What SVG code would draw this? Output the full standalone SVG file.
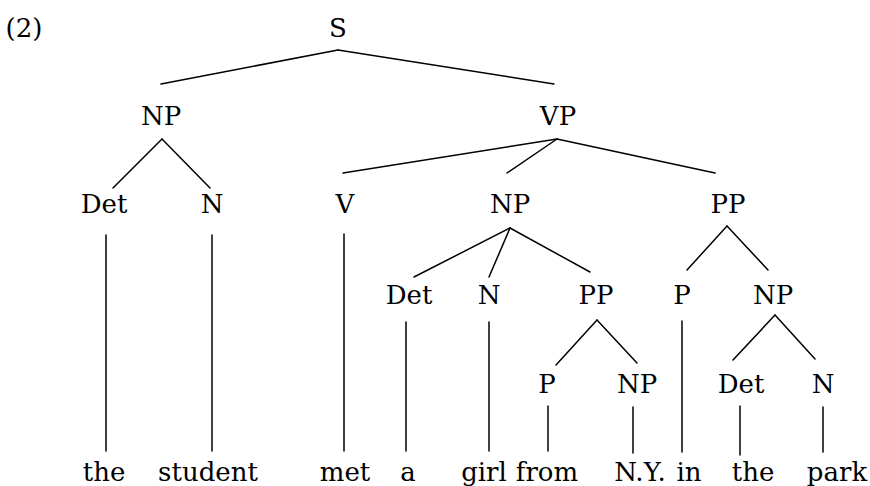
<svg xmlns="http://www.w3.org/2000/svg" width="870" height="486" viewBox="0 0 870 486">
<style>
text{font-family:"DejaVu Serif","Liberation Serif",serif;font-size:26px;fill:#000;text-anchor:middle}
.e line{stroke:#000;stroke-width:1.5;stroke-linecap:round}
</style>
<rect width="870" height="486" fill="#fff"/>
<text x="24" y="37">(2)</text>
<g id="S"><text x="338" y="37">S</text></g>
<g id="NP1"><text x="161" y="125">NP</text></g>
<g id="VP"><text x="558" y="125">VP</text></g>
<g id="Det1"><text x="104" y="213">Det</text></g>
<g id="N1"><text x="212" y="213">N</text></g>
<g id="V"><text x="345" y="213">V</text></g>
<g id="NP2"><text x="510" y="213">NP</text></g>
<g id="PP1"><text x="728" y="213">PP</text></g>
<g id="Det2"><text x="409" y="304">Det</text></g>
<g id="N2"><text x="489" y="304">N</text></g>
<g id="PP2"><text x="596" y="304">PP</text></g>
<g id="P1"><text x="682" y="304">P</text></g>
<g id="NP3"><text x="773" y="304">NP</text></g>
<g id="P2"><text x="547" y="393">P</text></g>
<g id="NP4"><text x="637" y="393">NP</text></g>
<g id="Det3"><text x="741" y="393">Det</text></g>
<g id="N3"><text x="823" y="393">N</text></g>
<g id="w1"><text x="104" y="481">the</text></g>
<g id="w2"><text x="208" y="481">student</text></g>
<g id="w3"><text x="345" y="481">met</text></g>
<g id="w4"><text x="408" y="481">a</text></g>
<g id="w5"><text x="484" y="481">girl</text></g>
<g id="w6"><text x="547" y="481">from</text></g>
<g id="w7"><text x="640" y="481">N.Y.</text></g>
<g id="w8"><text x="689" y="481">in</text></g>
<g id="w9"><text x="753" y="481">the</text></g>
<g id="w10"><text x="837" y="481">park</text></g>
<g id="edges" class="e">
<line x1="338" y1="50" x2="161" y2="84"/>
<line x1="338" y1="50" x2="554" y2="84"/>
<line x1="162" y1="139" x2="113" y2="188"/>
<line x1="162" y1="139" x2="210" y2="188"/>
<line x1="557" y1="139" x2="343" y2="173"/>
<line x1="557" y1="139" x2="507" y2="173"/>
<line x1="557" y1="139" x2="715" y2="173"/>
<line x1="106" y1="235" x2="106" y2="451"/>
<line x1="212" y1="235" x2="212" y2="451"/>
<line x1="344" y1="234" x2="344" y2="451"/>
<line x1="510" y1="228" x2="414" y2="277"/>
<line x1="510" y1="228" x2="489" y2="277"/>
<line x1="510" y1="228" x2="590" y2="272"/>
<line x1="727" y1="226" x2="687" y2="270"/>
<line x1="727" y1="226" x2="768" y2="270"/>
<line x1="406" y1="322" x2="406" y2="451"/>
<line x1="489" y1="322" x2="489" y2="451"/>
<line x1="682" y1="321" x2="682" y2="452"/>
<line x1="597" y1="320" x2="556" y2="365"/>
<line x1="597" y1="320" x2="637" y2="363"/>
<line x1="775" y1="315" x2="733" y2="360"/>
<line x1="775" y1="315" x2="815" y2="359"/>
<line x1="548" y1="406" x2="548" y2="451"/>
<line x1="633" y1="407" x2="633" y2="453"/>
<line x1="740" y1="406" x2="740" y2="455"/>
<line x1="823" y1="407" x2="823" y2="452"/>
</g>
</svg>
